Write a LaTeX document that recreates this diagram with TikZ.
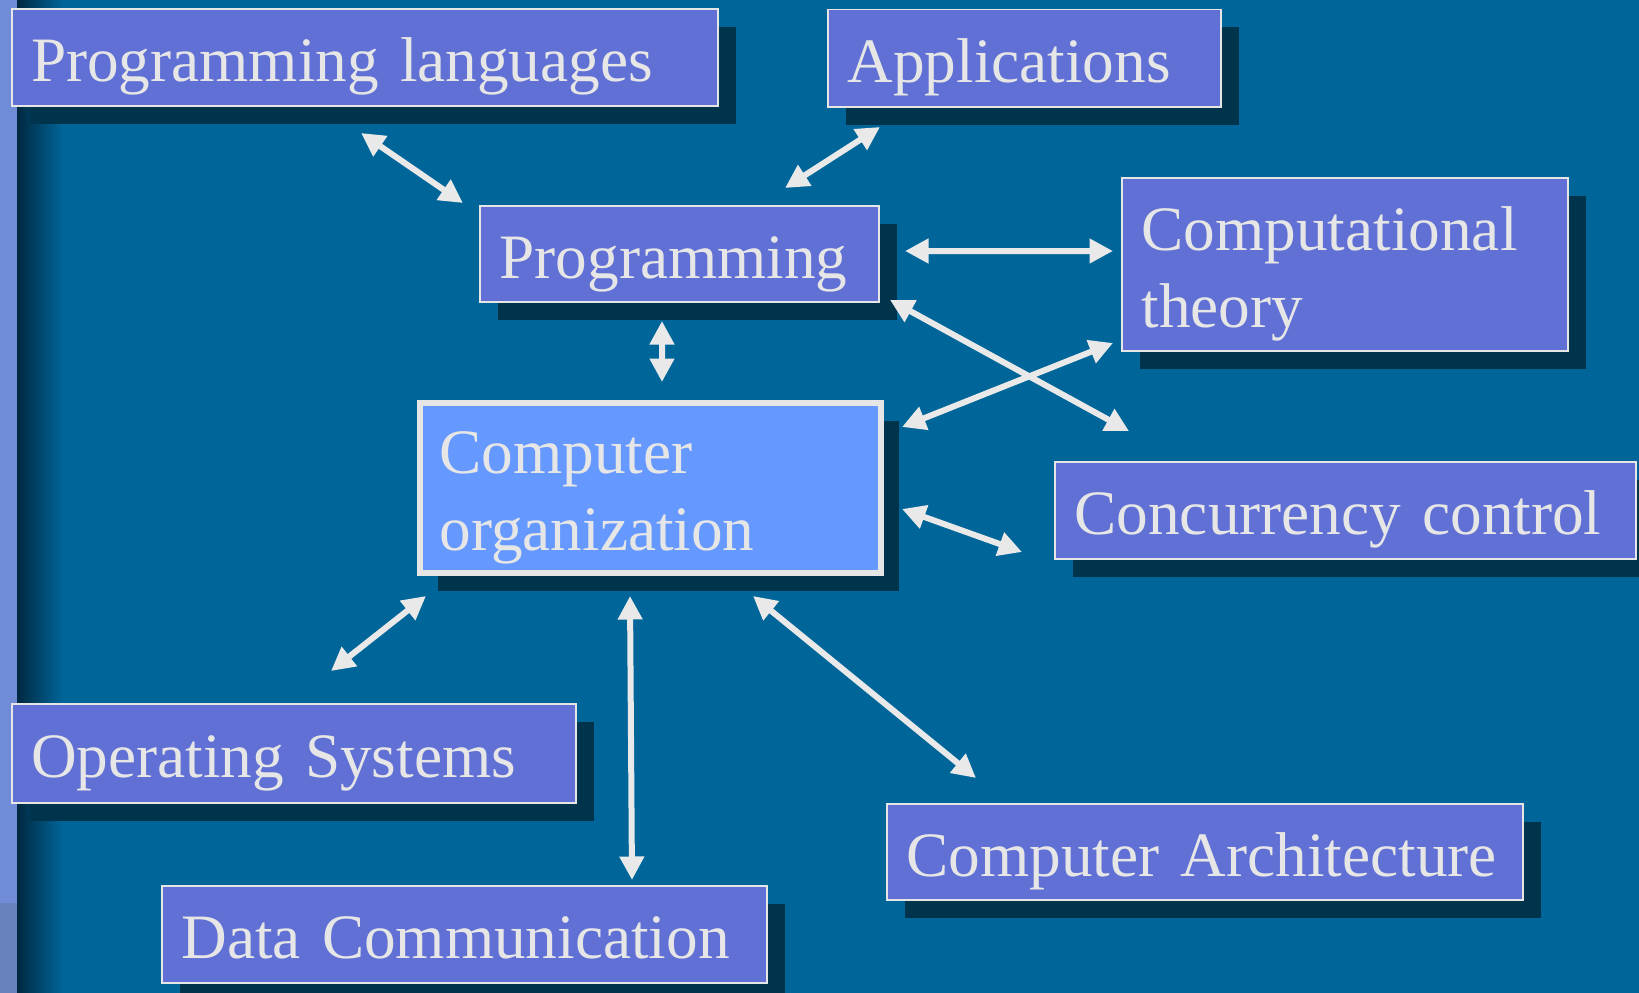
\documentclass[tikz,border=0pt]{standalone}
\usepackage{fontspec}
\setmainfont{Liberation Serif}
\usetikzlibrary{arrows.meta, shadows}
\definecolor{bgblue}{RGB}{0,102,153}
\definecolor{bgdark}{RGB}{0,40,64}
\definecolor{stripc}{RGB}{112,140,214}
\definecolor{stripd}{RGB}{104,130,192}
\definecolor{boxfill}{RGB}{96,112,212}
\definecolor{orgfill}{RGB}{102,153,255}
\definecolor{shadowc}{RGB}{0,51,76}
\definecolor{edgec}{RGB}{230,230,230}
\definecolor{linkc}{RGB}{233,233,233}

\begin{document}
\begin{tikzpicture}[
    box/.style={draw=edgec, fill=boxfill, line width=0.04cm, anchor=north west,
        text=edgec, align=left, inner xsep=0.39cm, inner ysep=0.1cm,
        text height=1.24cm, font=\fontsize{36}{43.8}\selectfont,
        drop shadow={shadow xshift=0.36cm, shadow yshift=-0.36cm, fill=shadowc, opacity=1}},
    oneline/.style={text depth=0.28cm},
    mainbox/.style={box, fill=orgfill, line width=0.12cm},
    link/.style={draw=linkc, line width=0.12cm,
        {Triangle[length=0.47cm,width=0.47cm]}-{Triangle[length=0.47cm,width=0.47cm]}}]
    \clip (0,0) rectangle (32.78,-19.86);
    \fill[bgblue] (0,0) rectangle (32.78,-19.86);
    \shade[left color=bgdark, right color=bgblue] (0.34,0) rectangle (1.26,-19.86);
    \fill[stripc] (0,0) rectangle (0.34,-18.06);
    \fill[stripd] (0,-18.06) rectangle (0.34,-19.86);

    \node[box, oneline, text width=13.35cm, minimum height=1.92cm] (proglang) at (0.21,-0.17) {Programming languages};
    \node[box, oneline, text width=7.08cm, minimum height=1.94cm] (apps) at (16.54,-0.17) {Applications};
    \node[box, oneline, text width=7.2cm, minimum height=1.92cm] (prog) at (9.58,-4.1) {Programming};
    \node[box, text width=8.14cm, minimum height=3.46cm] (comptheory) at (22.42,-3.54) {Computational\\theory};
    \node[mainbox, text width=8.44cm, minimum height=3.4cm] (comporg) at (8.34,-8.0) {Computer\\organization};
    \node[box, oneline, text width=10.84cm, minimum height=1.94cm] (concur) at (21.08,-9.22) {Concurrency control};
    \node[box, oneline, text width=10.51cm, minimum height=1.98cm] (opsys) at (0.21,-14.06) {Operating Systems};
    \node[box, oneline, text width=11.94cm, minimum height=1.92cm] (comparch) at (17.72,-16.06) {Computer Architecture};
    \node[box, oneline, text width=11.32cm, minimum height=1.94cm] (datacomm) at (3.22,-17.7) {Data Communication};

    \draw[link] ([shift={(-0.075,-0.53)}]proglang.south) -- ([shift={(-0.32,0.04)}]prog.north west);
    \draw[link] ([shift={(1.06,-0.39)}]apps.south west) -- ([shift={(-1.9,0.34)}]prog.north east);
    \draw[link] ([shift={(0.5,0.06)}]prog.east) -- ([shift={(-0.16,0.27)}]comptheory.west);
    \draw[link] ([shift={(0.2,0.06)}]prog.south east) -- ([shift={(1.5,0.6)}]concur.north west);
    \draw[link] ([shift={(0.36,-0.54)}]comporg.north east) -- ([shift={(-0.16,0.18)}]comptheory.south west);
    \draw[link] ([shift={(-0.35,-0.36)}]prog.south) -- ([shift={(0.23,0.36)}]comporg.north);
    \draw[link] ([shift={(0.36,-0.42)}]comporg.east) -- ([shift={(-0.64,-0.83)}]concur.west);
    \draw[link] ([shift={(0.18,-0.4)}]comporg.south west) -- ([shift={(0.745,0.64)}]opsys.north);
    \draw[link] ([shift={(-0.41,-0.4)}]comporg.south) -- ([shift={(-2.72,0.1)}]datacomm.north east);
    \draw[link] ([shift={(2.05,-0.4)}]comporg.south) -- ([shift={(1.8,0.5)}]comparch.north west);
\end{tikzpicture}
\end{document}
